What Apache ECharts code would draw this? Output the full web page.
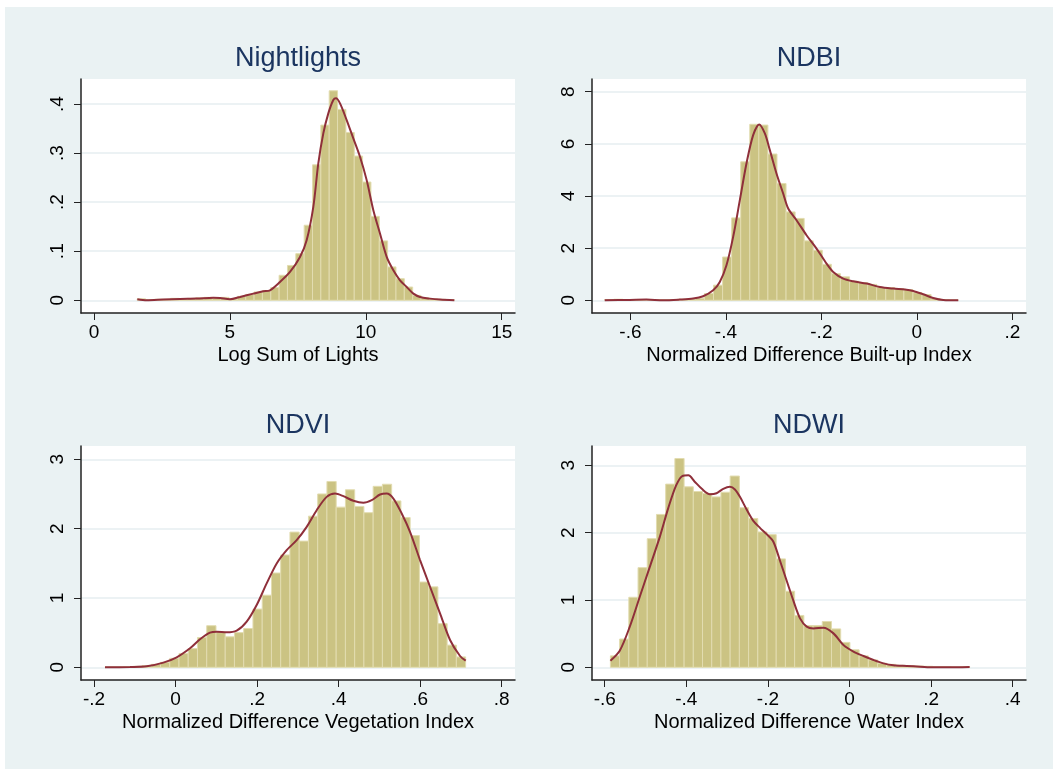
<!DOCTYPE html>
<html><head><meta charset="utf-8">
<script src="https://cdn.jsdelivr.net/npm/echarts@6/dist/echarts.min.js"></script>
<style>
html,body{margin:0;padding:0;background:#fff;}
#bg{position:absolute;left:5px;top:7px;width:1048px;height:762px;background:#eaf2f3;}
#chart{position:absolute;left:0;top:0;width:1053px;height:769px;}
</style></head><body><div id="bg"></div><div id="chart"></div>
<script>
// ---------- DATA ----------
const titles = ['Nightlights', 'NDBI', 'NDVI', 'NDWI'];
const xTitles = ['Log Sum of Lights', 'Normalized Difference Built-up Index',
                 'Normalized Difference Vegetation Index', 'Normalized Difference Water Index'];

// Nightlights histogram (38 bins) + kernel density
const nlBinStart = 1.59, nlBinWidth = 0.3071;
const nlHeights = [0.003,0.001,0.002,0.002,0.004,0.003,0.004,0.005,0.006,0.004,0.006,0.003,
  0.008,0.012,0.017,0.020,0.026,0.051,0.071,0.095,0.153,0.276,0.357,0.427,0.389,0.342,0.294,
  0.241,0.171,0.121,0.068,0.044,0.027,0.010,0.005,0.003,0.002,0.001];
const nlKdeX = [1.594,1.938,2.551,3.164,3.777,4.390,4.636,5.004,5.372,5.862,6.230,6.475,6.843,
  7.211,7.579,7.824,8.069,8.253,8.437,8.621,8.805,8.903,9.051,9.296,9.541,9.786,10.032,10.277,
  10.522,10.768,11.013,11.258,11.504,11.749,11.994,12.362,12.730,13.257];
const nlKdeY = [0.002,0.000,0.0014,0.0027,0.0034,0.0054,0.0048,0.0020,0.0068,0.0136,0.0184,0.0204,
  0.0374,0.0578,0.0884,0.1224,0.1905,0.2789,0.3401,0.3810,0.4082,0.4116,0.4014,0.3673,0.3299,
  0.2925,0.2449,0.1837,0.1361,0.0884,0.0612,0.0408,0.0272,0.0136,0.0068,0.0034,0.0014,0.0000];
const nlXTicks = [0, 5, 10, 15];
const nlYTicks = [0, 0.1, 0.2, 0.3, 0.4];

// NDBI histogram (39 bins) + kernel density
const ndbiBinStart = -0.6538, ndbiBinWidth = 0.01899;
const ndbiHeights = [0.03,0.04,0.02,0.03,0.03,0.02,0.02,0.03,0.04,0.05,0.08,0.26,0.58,1.66,3.16,
  5.31,6.75,6.72,5.61,4.48,3.39,3.14,2.28,1.92,1.38,1.02,0.90,0.73,0.68,0.61,0.49,0.49,0.45,0.41,
  0.29,0.22,0.06,0.03,0.01];
const ndbiKdeX = [-0.6538,-0.6014,-0.5665,-0.5315,-0.4966,-0.4686,-0.4477,-0.4267,-0.4128,-0.3988,
  -0.3848,-0.3708,-0.3569,-0.3429,-0.3303,-0.3184,-0.3079,-0.2940,-0.2800,-0.2695,-0.2520,-0.2311,
  -0.2101,-0.1892,-0.1752,-0.1542,-0.1333,-0.1053,-0.0774,-0.0494,-0.0250,-0.0075,0.0135,0.0344,
  0.0554,0.0868];
const ndbiKdeY = [0,0.013,0.026,0,0.026,0.064,0.154,0.384,0.704,1.344,2.432,3.84,5.248,6.336,6.746,
  6.4,5.76,4.864,4.096,3.52,3.072,2.496,1.984,1.408,1.088,0.832,0.73,0.64,0.512,0.448,0.41,0.358,
  0.23,0.09,0.013,0];
const ndbiXTicks = [-0.6, -0.4, -0.2, 0, 0.2];
const ndbiYTicks = [0, 2, 4, 6, 8];

// NDVI histogram (39 bins) + kernel density
const ndviBinStart = -0.173, ndviBinWidth = 0.02268;
const ndviHeights = [0.005,0.005,0.01,0.014,0.024,0.043,0.072,0.13,0.20,0.27,0.43,0.60,0.51,0.44,
  0.50,0.56,0.84,1.04,1.36,1.62,1.95,1.82,2.18,2.50,2.68,2.31,2.56,2.32,2.23,2.61,2.64,2.40,2.16,
  1.90,1.23,1.16,0.63,0.32,0.15];
const ndviKdeX = [-0.173,-0.1117,-0.0708,-0.0299,0.0028,0.0355,0.0600,0.0845,0.1009,0.1254,0.1500,
  0.1745,0.1990,0.2235,0.2481,0.2726,0.2971,0.3217,0.3462,0.3707,0.3912,0.4116,0.4361,0.4607,
  0.4811,0.5016,0.5179,0.5343,0.5547,0.5751,0.5997,0.6242,0.6487,0.6733,0.6978,0.7117];
const ndviKdeY = [0,0.005,0.014,0.067,0.144,0.274,0.404,0.499,0.514,0.504,0.528,0.658,0.898,1.210,
  1.498,1.690,1.834,2.026,2.266,2.458,2.506,2.468,2.401,2.372,2.410,2.492,2.506,2.434,2.218,1.954,
  1.546,1.162,0.778,0.394,0.163,0.096];
const ndviXTicks = [-0.2, 0, 0.2, 0.4, 0.6, 0.8];
const ndviYTicks = [0, 1, 2, 3];

// NDWI histogram (39 bins) + kernel density
const ndwiBinStart = -0.5861, ndwiBinWidth = 0.02258;
const ndwiHeights = [0.17,0.42,1.04,1.48,1.91,2.27,2.72,3.10,2.68,2.61,2.58,2.53,2.60,2.84,2.37,
  2.21,2.01,1.97,1.61,1.13,0.77,0.62,0.62,0.68,0.57,0.37,0.26,0.17,0.11,0.06,0.044,0.030,0.025,
  0.02,0.015,0.01,0.01,0.005,0.01];
const ndwiKdeX = [-0.5861,-0.5632,-0.5386,-0.5141,-0.4895,-0.4650,-0.4445,-0.4250,-0.4100,-0.3950,
  -0.3800,-0.3620,-0.3422,-0.3259,-0.3095,-0.2931,-0.2809,-0.2686,-0.2522,-0.2358,-0.2195,-0.2031,
  -0.1867,-0.1704,-0.1540,-0.1376,-0.1213,-0.1049,-0.0885,-0.0640,-0.0394,-0.0149,0.0097,0.0342,
  0.0588,0.0833,0.1079,0.1406,0.1733,0.2061,0.2388,0.2944];
const ndwiKdeY = [0.099,0.247,0.603,1.048,1.492,1.937,2.360,2.700,2.840,2.850,2.760,2.650,2.570,
  2.585,2.650,2.680,2.640,2.531,2.343,2.175,2.071,1.977,1.864,1.582,1.285,0.989,0.727,0.604,0.578,
  0.588,0.504,0.331,0.233,0.168,0.109,0.059,0.030,0.020,0.010,0,0,0.005];
const ndwiXTicks = [-0.6, -0.4, -0.2, 0, 0.2, 0.4];
const ndwiYTicks = [0, 1, 2, 3];

// ---------- LAYOUT / STYLE ----------
const FONT = '"Liberation Sans", Arial, Helvetica, sans-serif';
const BAR_FILL = '#cbc383';
const BAR_EDGE = '#e2dcb0';
const KDE_COLOR = '#8f2f3a';
const GRID_LINE = '#e6eef0';
const TITLE_COLOR = '#1b3560';

const panels = [
  {start: nlBinStart, width: nlBinWidth, h: nlHeights, kx: nlKdeX, ky: nlKdeY, xt: nlXTicks, yt: nlYTicks,
   grid: {left: 81, top: 79, width: 434, height: 234}, xr: [-0.478, 15.489], yr: [-0.0259, 0.451]},
  {start: ndbiBinStart, width: ndbiBinWidth, h: ndbiHeights, kx: ndbiKdeX, ky: ndbiKdeY, xt: ndbiXTicks, yt: ndbiYTicks,
   grid: {left: 592, top: 79, width: 434, height: 234}, xr: [-0.6805, 0.2287], yr: [-0.488, 8.488]},
  {start: ndviBinStart, width: ndviBinWidth, h: ndviHeights, kx: ndviKdeX, ky: ndviKdeY, xt: ndviXTicks, yt: ndviYTicks,
   grid: {left: 81, top: 446, width: 434, height: 234}, xr: [-0.2319, 0.8326], yr: [-0.183, 3.1916]},
  {start: ndwiBinStart, width: ndwiBinWidth, h: ndwiHeights, kx: ndwiKdeX, ky: ndwiKdeY, xt: ndwiXTicks, yt: ndwiYTicks,
   grid: {left: 592, top: 446, width: 434, height: 234}, xr: [-0.6312, 0.4326], yr: [-0.1883, 3.286]}
];

function fmt(v) {
  const s = String(+(+v).toFixed(6));
  return s.replace(/^(-?)0\./, '$1.');
}

const option = {
  animation: false,
  backgroundColor: 'transparent',
  title: panels.map((p, i) => ({
    text: titles[i],
    left: p.grid.left + p.grid.width / 2,
    top: p.grid.top - 34,
    textAlign: 'center',
    padding: 0,
    textStyle: {fontFamily: FONT, fontSize: 27, fontWeight: 'normal', color: TITLE_COLOR}
  })),
  grid: panels.map(p => Object.assign({show: true, backgroundColor: '#ffffff', borderWidth: 0,
    outerBoundsMode: 'none', containLabel: false}, p.grid)),
  xAxis: panels.map((p, i) => ({
    gridIndex: i, type: 'value', min: p.xr[0], max: p.xr[1],
    name: xTitles[i], nameLocation: 'middle', nameGap: 32,
    nameTextStyle: {fontFamily: FONT, fontSize: 20, color: '#000'},
    axisLine: {show: true, onZero: false, lineStyle: {color: '#222', width: 1.5}},
    axisTick: {show: true, length: 7, customValues: p.xt, lineStyle: {color: '#222', width: 1}},
    axisLabel: {customValues: p.xt, margin: 10, fontFamily: FONT, fontSize: 19, color: '#000', formatter: fmt},
    splitLine: {show: false}
  })),
  yAxis: panels.map((p, i) => ({
    gridIndex: i, type: 'value', min: p.yr[0], max: p.yr[1],
    axisLine: {show: true, onZero: false, lineStyle: {color: '#222', width: 1.5}},
    axisTick: {show: true, length: 7, customValues: p.yt, lineStyle: {color: '#222', width: 1}},
    axisLabel: {customValues: p.yt, rotate: 90, margin: 14, fontFamily: FONT, fontSize: 19, color: '#000', formatter: fmt},
    splitLine: {show: true, lineStyle: {color: GRID_LINE, width: 1.5}}
  })),
  series: []
};

panels.forEach((p, i) => {
  option.series.push({
    type: 'custom', xAxisIndex: i, yAxisIndex: i, z: 2,
    encode: {x: [0, 1], y: 2},
    data: p.h.map((hv, k) => [p.start + k * p.width, p.start + (k + 1) * p.width, hv]),
    renderItem: function (params, api) {
      const a = api.coord([api.value(0), api.value(2)]);
      const b = api.coord([api.value(1), 0]);
      return {type: 'rect',
        shape: {x: a[0], y: a[1], width: b[0] - a[0], height: b[1] - a[1]},
        style: {fill: BAR_FILL, stroke: BAR_EDGE, lineWidth: 1}};
    }
  });
  option.series.push({
    type: 'line', xAxisIndex: i, yAxisIndex: i, z: 3,
    data: p.kx.map((x, k) => [x, p.ky[k]]),
    smooth: 0.3, showSymbol: false, symbol: 'none',
    lineStyle: {color: KDE_COLOR, width: 2}
  });
});

const chart = echarts.init(document.getElementById('chart'), null, {renderer: 'canvas'});
chart.setOption(option);
</script></body></html>
